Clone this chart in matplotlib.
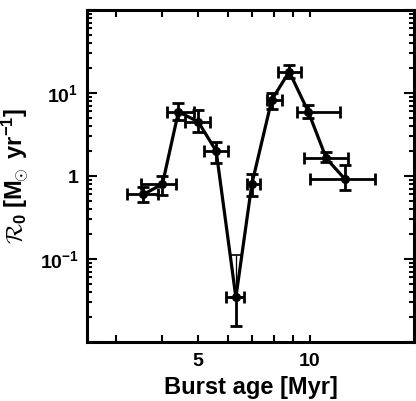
import numpy as np
import matplotlib
matplotlib.use("Agg")
import matplotlib.pyplot as plt
from matplotlib.ticker import FixedLocator, FixedFormatter, NullLocator, LogLocator

# burst age [Myr] and its range
age = [3.55, 4.0, 4.42, 5.0, 5.59, 6.32, 6.98, 7.90, 8.81, 9.92, 11.1, 12.46]
age_lo = [3.2, 3.51, 4.12, 4.59, 5.19, 5.93, 6.77, 7.68, 8.2, 9.22, 9.64, 10.0]
age_hi = [3.9, 4.36, 4.86, 5.38, 6.0, 6.66, 7.35, 8.43, 9.47, 12.1, 12.7, 15.0]

# R0 [Msun/yr] and its range
rate = [0.60, 0.80, 5.95, 4.5, 2.0, 0.0345, 0.80, 8.25, 18.1, 5.95, 1.63, 0.92]
rate_lo = [0.48, 0.59, 4.7, 3.4, 1.45, 0.0156, 0.57, 6.5, 15.0, 5.03, 1.46, 0.68]
rate_hi = [0.74, 1.0, 7.6, 6.2, 2.59, 0.112, 1.06, 10.1, 22.0, 7.16, 1.96, 1.36]

xticks = [3, 4, 5, 6, 7, 8, 9, 10]
xticklabels = ["", "", "5", "", "", "", "", "10"]
yticks = [0.01, 0.1, 1, 10, 100]
yticklabels = ["", r"$\mathbf{10^{-1}}$", "1", r"$\mathbf{10^{1}}$", ""]

plt.rcParams["font.family"] = ["Liberation Sans", "DejaVu Sans"]
plt.rcParams["font.weight"] = "bold"
plt.rcParams["mathtext.fontset"] = "custom"
plt.rcParams["mathtext.rm"] = "Liberation Sans:bold"
plt.rcParams["mathtext.bf"] = "Liberation Sans:bold"
plt.rcParams["mathtext.it"] = "Liberation Sans:italic:bold"
plt.rcParams["mathtext.cal"] = "cmsy10"

age = np.array(age); rate = np.array(rate)
xerr = np.array([age - np.array(age_lo), np.array(age_hi) - age])
yerr = np.array([rate - np.array(rate_lo), np.array(rate_hi) - rate])

# the deepest point has a thin upper error bar
dip = int(np.argmin(rate))
yerr_thick = yerr.copy()
yerr_thick[1, dip] = 0

fig = plt.figure(figsize=(4.16, 4.01), dpi=100)
ax = fig.add_axes([0.209, 0.147, 0.787, 0.828])

ax.plot(age, rate, color="black", lw=2.3, zorder=3)
ax.errorbar(age, rate, xerr=xerr, yerr=yerr_thick, fmt="o", color="black",
            ms=5.5, elinewidth=2.0, capsize=4, capthick=2.0, zorder=4)
ax.errorbar(age[dip], rate[dip], yerr=[[0], [yerr[1, dip]]], fmt="none",
            ecolor="black", elinewidth=0.9, capsize=4, capthick=1.2, zorder=4)

ax.set_xscale("log")
ax.set_yscale("log")
ax.set_xlim(2.5, 19.2)
ax.set_ylim(0.01, 100)

ax.xaxis.set_major_locator(FixedLocator(xticks))
ax.xaxis.set_major_formatter(FixedFormatter(xticklabels))
ax.xaxis.set_minor_locator(NullLocator())
ax.yaxis.set_major_locator(FixedLocator(yticks))
ax.yaxis.set_major_formatter(FixedFormatter(yticklabels))
ax.yaxis.set_minor_locator(LogLocator(base=10, subs=np.arange(2, 10)))

ax.tick_params(axis="both", which="both", direction="in", top=True, right=True,
               width=1.5, color="black")
ax.tick_params(axis="x", which="major", length=5, labelsize=14, pad=8)
ax.tick_params(axis="y", which="major", length=7, labelsize=14, pad=6)
ax.tick_params(axis="y", which="minor", length=3.5)

for s in ax.spines.values():
    s.set_linewidth(2.2)

ax.set_xlabel("Burst age [Myr]", fontsize=17, fontweight="bold", labelpad=4)
ax.set_ylabel(r"$\mathcal{R}_0$ [$\mathrm{M}_{\!\!\odot}$ yr$^{-1}$]", fontsize=17,
              fontweight="bold", labelpad=6)

fig.savefig("out.png", dpi=100)
